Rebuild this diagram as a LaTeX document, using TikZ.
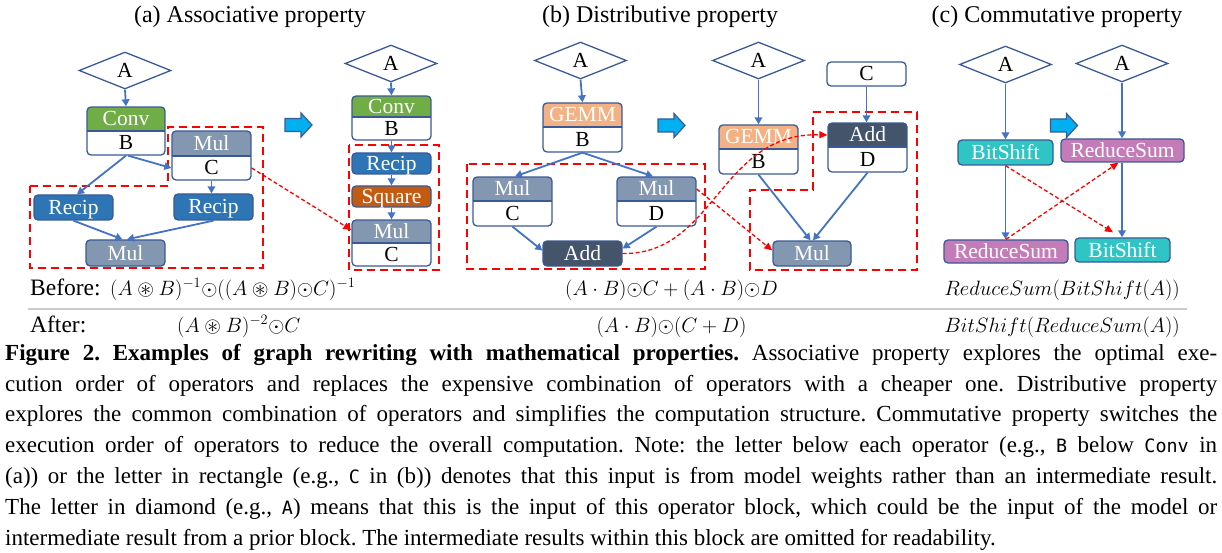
\documentclass[tikz,border=0pt]{standalone}
\usepackage{amssymb}
\usepackage{fontspec}
\setmainfont{Liberation Serif}
\newfontfamily\codefont{DejaVu Sans Mono}[Scale=0.8]
\usetikzlibrary{arrows.meta,shapes.geometric,fit}
\definecolor{boxline}{HTML}{3A5A95}
\definecolor{arrowblue}{HTML}{4472C4}
\definecolor{convgreen}{HTML}{70AD47}
\definecolor{mulgray}{HTML}{8497B0}
\definecolor{recipblue}{HTML}{2E75B6}
\definecolor{squareorange}{HTML}{C55A11}
\definecolor{gemmorange}{HTML}{F4B183}
\definecolor{adddark}{HTML}{44546A}
\definecolor{bitteal}{HTML}{30C5C5}
\definecolor{redpink}{HTML}{C47CB8}
\definecolor{cyanfill}{HTML}{00B0F0}
\definecolor{rowline}{HTML}{CCCCCC}
\tikzset{
  lbl/.style={font=\fontsize{21.5}{24}\selectfont, text height=14pt, text depth=0pt, inner sep=0pt},
  opbox/.style={draw=boxline, line width=1.3pt, rounded corners=4pt, inner sep=0pt, lbl, text=white},
  inbox/.style={diamond, draw=boxline, line width=1.3pt, fill=white, minimum width=92pt, minimum height=37pt, inner sep=0pt, lbl},
  arr/.style={draw=arrowblue, line width=1.8pt, -{Triangle[length=7pt,width=7.5pt]}},
  redarr/.style={draw=red, line width=1.3pt, dash pattern=on 4pt off 2.5pt, -{Triangle[length=8pt,width=7pt]}},
  redbox/.style={draw=red, line width=2.3pt, dash pattern=on 8pt off 5pt},
  blockarr/.style={draw=boxline, line width=1.2pt, fill=cyanfill, line join=miter},
  titletext/.style={font=\fontsize{24}{28}\selectfont, anchor=base, inner sep=0pt},
  rowtext/.style={font=\fontsize{23.5}{26}\selectfont, inner sep=0pt},
  mathrow/.style={font=\fontsize{20.5}{24}\selectfont, inner sep=0pt},
  mathrowa/.style={font=\fontsize{21.5}{24}\selectfont, inner sep=0pt},
}
% name, x1, y1, x2, ymid, y2, colour, top text, bottom text
\newcommand\twobox[9]{%
  \fill[white, rounded corners=4pt] (#2,#3) rectangle (#4,#6);
  \begin{scope}
    \clip[rounded corners=4pt] (#2,#3) rectangle (#4,#6);
    \fill[#7] (#2,#3) rectangle (#4,#5);
  \end{scope}
  \draw[draw=boxline, line width=1.3pt] (#2,#5) -- (#4,#5);
  \node[fit={(#2,#3) (#4,#6)}, draw=boxline, line width=1.3pt, rounded corners=4pt, inner sep=0pt] (#1) {};
  \node[lbl, text=white] (#1-t) at ({(#2+#4)/2},{(#3+#5)/2}) {#8};
  \node[lbl] (#1-b) at ({(#2+#4)/2},{(#5+#6)/2}) {#9};
}
% block arrow centred at (#1,#2)
\newcommand\blockarrow[2]{%
  \draw[blockarr] (#1,#2) ++(-13.5,-6.5) -- ++(16,0) -- ++(0,-5.5) -- ++(11,12) -- ++(-11,12) -- ++(0,-5.5) -- ++(-16,0) -- cycle;
}
\begin{document}
\begin{tikzpicture}[x=1pt,y=-1pt]
\useasboundingbox (0,0) rectangle (1222,553);

% titles
\node[titletext] (ta) at (250,23) {(a) Associative property};
\node[titletext] (tb) at (660,23) {(b) Distributive property};
\node[titletext] (tc) at (1057,23) {(c) Commutative property};

% red dashed regions
\draw[redbox] (30,186) -- (168,186) -- (168,127) -- (263,127) -- (263,268) -- (30,268) -- cycle;
\draw[redbox] (349,145) rectangle (439,270);
\draw[redbox] (467,164) rectangle (705,269);
\draw[redbox] (813,112) -- (917,112) -- (917,270) -- (750,270) -- (750,190) -- (813,190) -- cycle;

% ---------- (a) before
\node[inbox] (aA) at (125,70.5) {A};
\twobox{aconv}{87}{107}{165}{131}{155}{convgreen}{Conv}{B}
\twobox{amulc}{172}{131}{251}{156}{180}{mulgray}{Mul}{C}
\node[opbox, fill=recipblue, minimum width=79pt, minimum height=25pt] (arecl) at (73.5,207.5) {Recip};
\node[opbox, fill=recipblue, minimum width=79pt, minimum height=26pt] (arecr) at (213.5,207) {Recip};
\node[opbox, fill=mulgray, minimum width=79pt, minimum height=26pt] (amul) at (125.5,253) {Mul};
\draw[arr] (aA.south) -- (aconv.north);
\draw[arr] (aconv.south) -- ([xshift=3.5pt]arecl.north);
\draw[arr] ([xshift=2pt]aconv.south) -- ([yshift=-12.5pt]amulc.west);
\draw[arr] (amulc.south) -- (amulc.south |- arecr.north);
\draw[arr] (arecl.south) -- ([xshift=-3pt]amul.north);
\draw[arr] (arecr.south) -- ([xshift=1.5pt]amul.north);

\blockarrow{298.5}{125}

% ---------- (a) after
\node[inbox] (aA2) at (391,63.5) {A};
\twobox{aconv2}{352}{96}{431}{117}{140}{convgreen}{Conv}{B}
\node[opbox, fill=recipblue, minimum width=79pt, minimum height=21pt] (arec2) at (391.5,163.5) {Recip};
\node[opbox, fill=squareorange, minimum width=79pt, minimum height=21pt] (asq) at (391.5,196.5) {Square};
\twobox{amulc2}{352}{220}{431}{243}{266}{mulgray}{Mul}{C}
\draw[arr] (aA2.south) -- (aconv2.north);
\draw[arr] (aconv2.south) -- (arec2.north);
\draw[arr] (arec2.south) -- (asq.north);
\draw[arr] (asq.south) -- (amulc2.north);

% ---------- (b) before
\node[inbox] (bA) at (580.5,60.5) {A};
\twobox{bgemm}{543}{103}{622}{127}{152}{gemmorange}{GEMM}{B}
\twobox{bmulc}{473}{177}{552}{201}{226}{mulgray}{Mul}{C}
\twobox{bmuld}{617}{177}{696}{201}{226}{mulgray}{Mul}{D}
\node[opbox, fill=adddark, minimum width=79pt, minimum height=25pt] (badd) at (582.5,253.5) {Add};
\draw[arr] (bA.south) -- (bgemm.north);
\draw[arr] (bgemm.south) -- ([xshift=2.5pt]bmulc.north);
\draw[arr] (bgemm.south) -- ([xshift=-3.5pt]bmuld.north);
\draw[arr] (bmulc.south) -- ([yshift=3pt]badd.west);
\draw[arr] (bmuld.south) -- ([yshift=5pt]badd.east);

\blockarrow{671.5}{125.5}

% ---------- (b) after
\node[inbox] (bA2) at (758.5,60.5) {A};
\node[opbox, fill=white, text=black, minimum width=79pt, minimum height=24pt] (bc) at (866.5,74) {C};
\twobox{bgemm2}{719}{125}{798}{149}{174}{gemmorange}{GEMM}{B}
\twobox{badd2}{828}{123}{907}{147}{172}{adddark}{Add}{D}
\node[opbox, fill=mulgray, minimum width=78pt, minimum height=25pt] (bmul2) at (812,253.5) {Mul};
\draw[arr] (bA2.south) -- (bgemm2.north);
\draw[arr] (bc.south) -- (bc.south |- badd2.north);
\draw[arr] (bgemm2.south) -- ([xshift=-1.5pt]bmul2.north);
\draw[arr] (badd2.south) -- ([xshift=1pt]bmul2.north);

% ---------- (c)
\node[inbox] (cA1) at (1005.5,64.5) {A};
\node[inbox] (cA2) at (1122,63.5) {A};
\node[opbox, fill=bitteal, minimum width=95pt, minimum height=25pt] (cbs1) at (1005.5,152.5) {BitShift};
\node[opbox, fill=redpink, minimum width=123pt, minimum height=23pt] (crs1) at (1122.5,150.5) {ReduceSum};
\node[opbox, fill=redpink, minimum width=124pt, minimum height=23pt] (crs2) at (1006,251.5) {ReduceSum};
\node[opbox, fill=bitteal, minimum width=95pt, minimum height=24pt] (cbs2) at (1122.5,250) {BitShift};
\draw[arr] (cA1.south) -- (cA1.south |- cbs1.north);
\draw[arr] (cbs1.south) -- (cbs1.south |- crs2.north);
\draw[arr] (cA2.south) -- (cA2.south |- crs1.north);
\draw[arr] (cA2.south |- crs1.south) -- (cA2.south |- cbs2.north);

\blockarrow{1064}{125.5}

% red dashed connectors
\draw[redarr] ([yshift=-12.5pt]amulc.east) -- ([yshift=13pt]amulc2.west);
\draw[redarr] ([yshift=12.5pt]bmuld.east) -- ([yshift=3pt]bmul2.west);
\draw[redarr] (badd.east) .. controls (715,255) and (720,132) .. ([yshift=12.5pt]badd2.west);
\draw[redarr] (cbs1.south) -- ([xshift=-9.5pt,yshift=5pt]cbs2.north);
\draw[redarr] (crs2.north) -- ([xshift=-4pt]crs1.south);

% formula rows
\node[rowtext, anchor=base west] (bef) at (30,295) {Before:};
\node[mathrowa, anchor=base west] (beff) at (110,295) {$(A\circledast B)^{-1}{\odot}((A\circledast B){\odot}C)^{-1}$};
\node[rowtext, anchor=base west] (aft) at (30,332) {After:};
\node[mathrowa, anchor=base west] (aftf) at (177,332) {$(A\circledast B)^{-2}{\odot}C$};
\node[mathrow, anchor=base] (befb) at (671.5,295) {$(A\cdot B){\odot}C+(A\cdot B){\odot}D$};
\node[mathrow, anchor=base] (aftb) at (671.5,332) {$(A\cdot B){\odot}(C+D)$};
\node[mathrow, anchor=base] (befc) at (1062,295) {$ReduceSum(BitShift(A))$};
\node[mathrow, anchor=base] (aftc) at (1062,332) {$BitShift(ReduceSum(A))$};
\draw[rowline, line width=1.5pt] (28,309) -- (1187,309);

% caption
\node[anchor=north west, inner sep=0pt, text width=1212pt, align=justify, font=\fontsize{23}{30.8}\selectfont] (cap) at (5,344) {\frenchspacing\textbf{Figure 2. Examples of graph rewriting with mathematical properties.} Associative property explores the optimal exe-\linebreak cution order of operators and replaces the expensive combination of operators with a cheaper one. Distributive property\linebreak explores the common combination of operators and simplifies the computation structure. Commutative property switches the\linebreak execution order of operators to reduce the overall computation. Note: the letter below each operator (e.g., {\codefont B} below {\codefont Conv} in\linebreak (a)) or the letter in rectangle (e.g., {\codefont C} in (b)) denotes that this input is from model weights rather than an intermediate result.\linebreak The letter in diamond (e.g., {\codefont A}) means that this is the input of this operator block, which could be the input of the model or\linebreak intermediate result from a prior block. The intermediate results within this block are omitted for readability.};
\end{tikzpicture}
\end{document}
